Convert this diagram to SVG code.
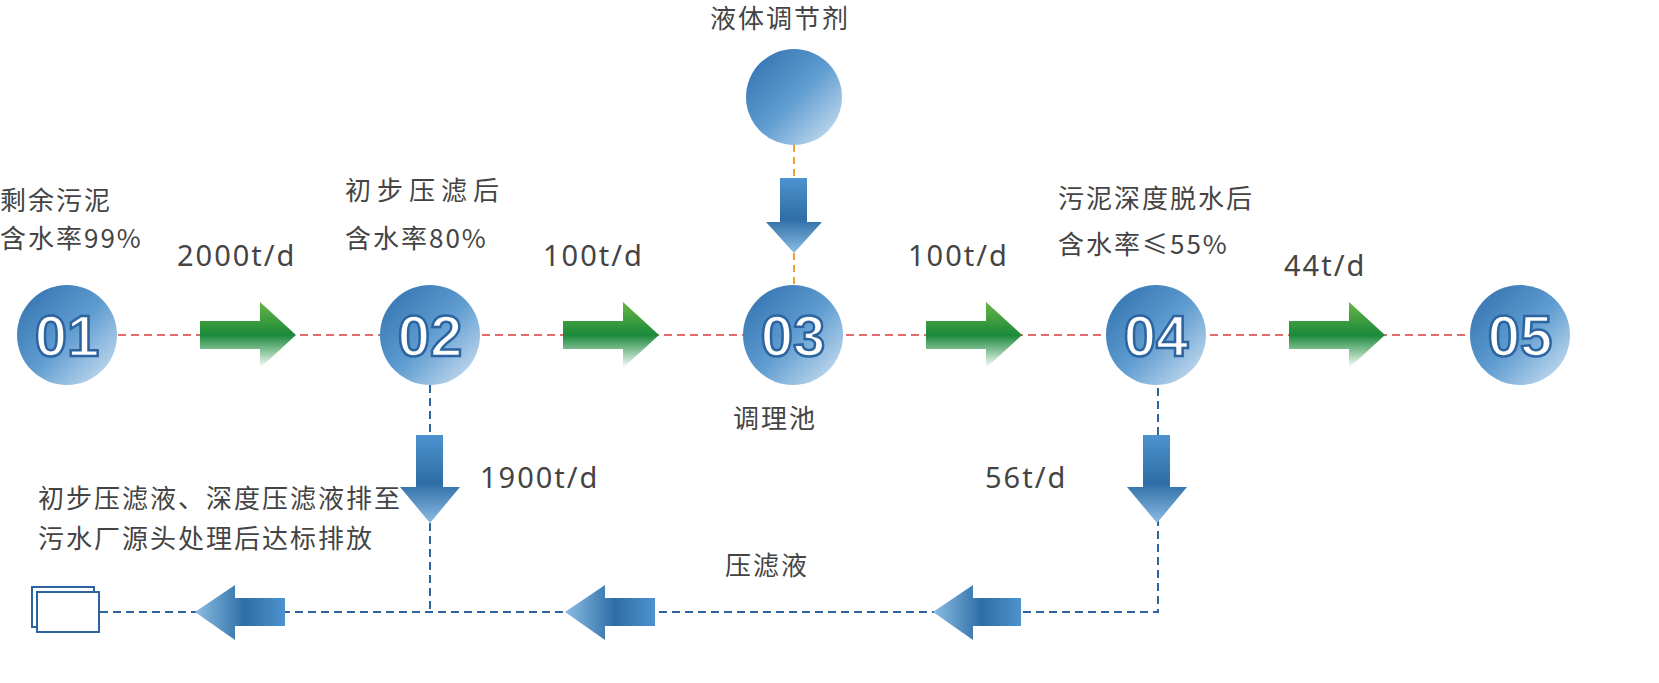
<svg xmlns="http://www.w3.org/2000/svg" width="1659" height="683" viewBox="0 0 1659 683">
<defs>
<linearGradient id="cg" x1="0" y1="0" x2="1" y2="1"><stop offset="0" stop-color="#2e6eab"/><stop offset="0.5" stop-color="#5d9bd0"/><stop offset="1" stop-color="#d6e6f4"/></linearGradient>
<linearGradient id="gg" x1="0" y1="0" x2="0" y2="1"><stop offset="0" stop-color="#6ab446"/><stop offset="0.5" stop-color="#1a8a3a"/><stop offset="1" stop-color="#ffffff"/></linearGradient>
<linearGradient id="dg" x1="0" y1="0" x2="0" y2="1"><stop offset="0" stop-color="#4d93cf"/><stop offset="0.55" stop-color="#2e6ea6"/><stop offset="1" stop-color="#8cbde4"/></linearGradient>
<linearGradient id="lg" x1="0" y1="0" x2="1" y2="0"><stop offset="0" stop-color="#8cbde4"/><stop offset="0.55" stop-color="#2e6ea6"/><stop offset="1" stop-color="#4d93cf"/></linearGradient>
</defs>
<style>
.t{font-family:"Noto Sans CJK SC","Liberation Sans",sans-serif;fill:#444;font-size:26px;letter-spacing:2px}
.num{font-family:"Noto Sans","Liberation Sans",sans-serif;fill:#444;font-size:29px;letter-spacing:2px}
.n{font-family:"Liberation Sans",sans-serif;font-weight:bold;font-size:58px;fill:#fff;stroke:#2c64a0;stroke-width:2.5;text-anchor:middle}
.rd{stroke:#e06c6c;stroke-width:2;stroke-dasharray:8 5;fill:none}
.bd{stroke:#2c64a0;stroke-width:2;stroke-dasharray:8 5;fill:none}
.od{stroke:#f0a030;stroke-width:2;stroke-dasharray:7 5;fill:none}
</style>
<g id="connectors">
<line class="rd" x1="118" y1="335" x2="1470" y2="335"/>
<path class="bd" d="M430 385V435M430 523V612M100 612H1158V385"/>
<path class="od" d="M794 145V178M794 253V288"/>
<g fill="url(#gg)">
<path d="M200 321H260V302L296 335L260 368V349H200Z"/>
<path d="M563 321H623V302L659 335L623 368V349H563Z"/>
<path d="M926 321H986V302L1022 335L986 368V349H926Z"/>
<path d="M1289 321H1349V302L1385 335L1349 368V349H1289Z"/>
</g>
<g fill="url(#dg)">
<path d="M416 435H443V487H460L430 523L400 487H416Z"/>
<path d="M1143 435H1170V487H1187L1157 523L1127 487H1143Z"/>
<path d="M780 178H807V222H822L794 253L766 222H780Z"/>
</g>
<g fill="url(#lg)">
<path d="M195 612L235 585V598H285V626H235V640Z"/>
<path d="M565 612L605 585V598H655V626H605V640Z"/>
<path d="M933 612L973 585V598H1021V626H973V640Z"/>
</g>
</g>
<g id="n01"><circle cx="67" cy="335" r="50" fill="url(#cg)"/><text class="n" x="67" y="356">01</text></g>
<g id="n02"><circle cx="430" cy="335" r="50" fill="url(#cg)"/><text class="n" x="430" y="356">02</text></g>
<g id="n03"><circle cx="793" cy="335" r="50" fill="url(#cg)"/><text class="n" x="793" y="356">03</text></g>
<g id="n04"><circle cx="1156" cy="335" r="50" fill="url(#cg)"/><text class="n" x="1156" y="356">04</text></g>
<g id="n05"><circle cx="1520" cy="335" r="50" fill="url(#cg)"/><text class="n" x="1520" y="356">05</text></g>
<g id="reagent"><circle cx="794" cy="97" r="48" fill="url(#cg)"/></g>
<g id="outlet" fill="none" stroke="#2c64a0" stroke-width="2"><rect x="32" y="587" width="62" height="40"/><rect x="37" y="592" width="62" height="40" fill="#fff"/></g>
<g id="labels">
<text class="t" x="0" y="210" font-size="23">剩余污泥</text>
<text class="t" x="0" y="248" font-size="23">含水率99%</text>
<text class="num" x="177" y="266">2000t/d</text>
<text class="t" x="345" y="200" font-size="27" style="letter-spacing:6px">初步压滤后</text>
<text class="t" x="345" y="248" font-size="27">含水率80%</text>
<text class="num" x="543" y="266">100t/d</text>
<text class="t" x="710" y="28" font-size="27">液体调节剂</text>
<text class="t" x="733" y="428" font-size="27">调理池</text>
<text class="num" x="908" y="266">100t/d</text>
<text class="t" x="1058" y="208" font-size="27">污泥深度脱水后</text>
<text class="t" x="1058" y="254" font-size="27">含水率≤55%</text>
<text class="num" x="1284" y="276">44t/d</text>
<text class="num" x="480" y="488">1900t/d</text>
<text class="num" x="985" y="488">56t/d</text>
<text class="t" x="725" y="575" font-size="27">压滤液</text>
<text class="t" x="38" y="508" font-size="22">初步压滤液、深度压滤液排至</text>
<text class="t" x="38" y="548" font-size="22">污水厂源头处理后达标排放</text>
</g>
</svg>
